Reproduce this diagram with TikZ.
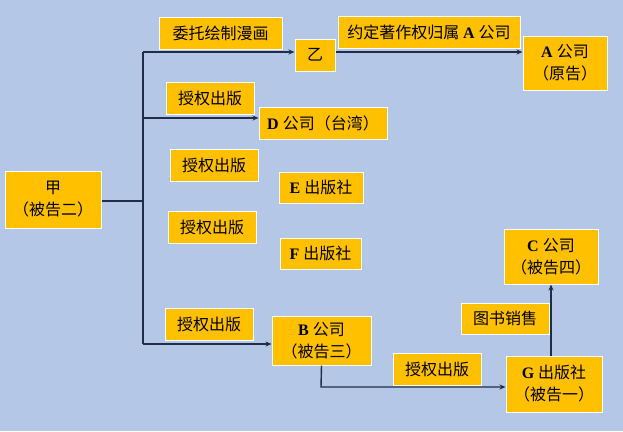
\documentclass[tikz,border=0pt]{standalone}
\usepackage{fontspec}
\setmainfont{Liberation Serif}
\newfontfamily\cjk{Noto Sans CJK SC}
\usetikzlibrary{arrows.meta}
\definecolor{bg}{HTML}{B4C7E7}
\definecolor{boxc}{HTML}{FFC000}
\definecolor{ln}{HTML}{1F2D4A}
\newcommand\lat[1]{{\rmfamily\bfseries #1\ }}
\tikzset{
  box/.style={draw=white, line width=1pt, fill=boxc, inner sep=0pt, align=center,
    font=\cjk\fontsize{16}{22}\selectfont, text=black},
  conn/.style={draw=ln, line width=1.4pt},
  arr/.style={conn, -{Stealth[length=6pt,width=5pt]}}
}
\begin{document}
\begin{tikzpicture}[x=1pt,y=-1pt]
\fill[bg] (0,0) rectangle (623,431);
\useasboundingbox (0,0) rectangle (623,431);
% main boxes
\node[box, minimum width=96pt, minimum height=57pt] (jia) at (53,199.5) {甲\\（被告二）};
\node[box, minimum width=40pt, minimum height=32pt] (yi) at (315,55) {乙};
\node[box, minimum width=84pt, minimum height=54pt] (A) at (565,63) {\lat{A}公司\\（原告）};
\node[box, minimum width=128pt, minimum height=32pt] (D) at (323,123) {\lat{D}公司（台湾）};
\node[box, minimum width=84pt, minimum height=31pt] (E) at (321,187.5) {\lat{E}出版社};
\node[box, minimum width=81pt, minimum height=31pt] (F) at (320.5,253.5) {\lat{F}出版社};
\node[box, minimum width=99pt, minimum height=49pt] (B) at (321.5,340.5) {\lat{B}公司\\（被告三）};
\node[box, minimum width=96pt, minimum height=56pt] (G) at (554,384) {\lat{G}出版社\\（被告一）};
\node[box, minimum width=94pt, minimum height=55pt] (C) at (551,256.5) {\lat{C}公司\\（被告四）};
% labels
\node[box, minimum width=123pt, minimum height=32pt] (l1) at (220.5,33) {委托绘制漫画};
\node[box, minimum width=182pt, minimum height=32pt] (l2) at (429,32) {约定著作权归属 \lat{A}公司};
\node[box, minimum width=88pt, minimum height=32pt] (l3) at (210,98) {授权出版};
\node[box, minimum width=88pt, minimum height=32pt] (l4) at (214,165) {授权出版};
\node[box, minimum width=88pt, minimum height=32pt] (l5) at (212,227) {授权出版};
\node[box, minimum width=88pt, minimum height=32pt] (l6) at (209,324) {授权出版};
\node[box, minimum width=88pt, minimum height=32pt] (l7) at (437,369) {授权出版};
\node[box, minimum width=88pt, minimum height=31pt] (l8) at (505,318.5) {图书销售};
% trunk
\coordinate (ttop) at (143,52);
\coordinate (tmid) at (143,201);
\coordinate (tD) at (143,118);
\coordinate (tbot) at (143,344);
\coordinate (bend) at (321,387);
\draw[conn] (jia.east |- tmid) -- (tmid);
\draw[conn] (ttop) -- (tbot);
\draw[arr] (ttop) -- (ttop -| yi.west);
\draw[arr] (ttop -| yi.east) -- (ttop -| A.west);
\draw[arr] (tD) -- (tD -| D.west);
\draw[arr] (tbot) -- (tbot -| B.west);
\draw[arr] (B.south) -- (bend) -- (bend -| G.west);
\draw[arr] (G.north -| C.south) -- (C.south);
\end{tikzpicture}
\end{document}
